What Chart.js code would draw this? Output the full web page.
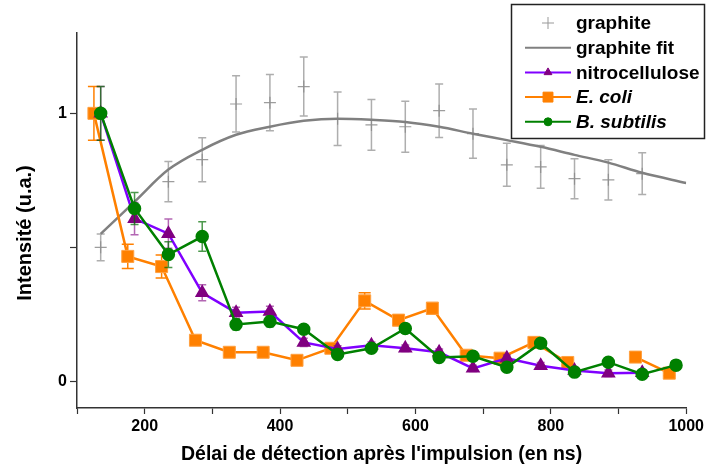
<!DOCTYPE html>
<html>
<head>
<meta charset="utf-8">
<script src="https://cdn.jsdelivr.net/npm/chart.js@4.4.0/dist/chart.umd.min.js"></script>
<style>
  body { margin: 0; background: #fff; }
  canvas { display: block; }
</style>
</head>
<body>
<canvas id="chart" width="707" height="468"></canvas>
<script>
// graphite measurements (ns) and intensity
const graphiteDelays = [135, 235, 285, 335, 385, 435, 485, 535, 585, 635, 685, 735, 785, 835, 885, 935];
const graphite = [0.50, 0.745, 0.827, 1.035, 1.04, 1.10, 0.98, 0.957, 0.95, 1.01, 0.924, 0.808, 0.80, 0.756, 0.752, 0.775];
const graphiteErr = [0.05, 0.075, 0.082, 0.105, 0.105, 0.11, 0.10, 0.095, 0.095, 0.10, 0.092, 0.08, 0.08, 0.075, 0.075, 0.078];

// graphite fit curve
const fitDelays = [135, 185, 235, 285, 335, 385, 435, 485, 535, 585, 635, 685, 735, 785, 835, 885, 935, 1000];
const graphiteFit = [0.55, 0.67, 0.79, 0.864, 0.92, 0.95, 0.972, 0.98, 0.976, 0.968, 0.95, 0.924, 0.90, 0.875, 0.845, 0.816, 0.778, 0.74];

// nitrocellulose
const nitroDelays = [135, 185, 235, 285, 335, 385, 435, 485, 535, 585, 635, 685, 735, 785, 835, 885, 935];
const nitro = [1.0, 0.607, 0.551, 0.33, 0.256, 0.26, 0.145, 0.12, 0.134, 0.123, 0.108, 0.048, 0.086, 0.058, 0.04, 0.03, 0.032];
const nitroErr = [0.1, 0.06, 0.055, 0.03, 0.02, 0.02, 0.015, 0.012, 0.012, 0.012, 0.012, 0.012, 0.012, 0.012, 0.012, 0.012, 0.012];

// E. coli
const ecoliDelays = [125, 175, 225, 275, 325, 375, 425, 475, 525, 575, 625, 675, 725, 775, 825, 875, 925, 975];
const ecoli = [1.0, 0.466, 0.428, 0.153, 0.108, 0.108, 0.078, 0.123, 0.30, 0.228, 0.272, 0.097, 0.086, 0.145, 0.07, null, 0.09, 0.03];
const ecoliErr = [0.1, 0.045, 0.043, 0.01, 0.01, 0.01, 0.01, 0.01, 0.03, 0.02, 0.022, 0.01, 0.01, 0.01, 0.01, 0, 0.01, 0.01];

// B. subtilis
const subtilisDelays = [135, 185, 235, 285, 335, 385, 435, 485, 535, 585, 635, 685, 735, 785, 835, 885, 935, 985];
const subtilis = [1.0, 0.645, 0.473, 0.54, 0.212, 0.223, 0.194, 0.10, 0.123, 0.197, 0.089, 0.093, 0.052, 0.142, 0.034, 0.071, 0.026, 0.06];
const subtilisErr = [0.1, 0.06, 0.048, 0.055, 0.02, 0.02, 0.015, 0.01, 0.01, 0.018, 0.01, 0.01, 0.01, 0.01, 0.01, 0.01, 0.01, 0.01];

const xTicks = [100, 200, 300, 400, 500, 600, 700, 800, 900, 1000];
const xLabels = [200, 400, 600, 800, 1000];
const yTicks = [0, 0.5, 1];
const yLabels = [0, 1];

const FONT = '"Liberation Sans", Arial, sans-serif';

function pts(xs, ys) {
    return xs.map((x, i) => ({ x: x, y: ys[i] }));
}

// vertical error bars with caps, drawn under each dataset
const errorBars = {
    id: 'errorBars',
    beforeDatasetDraw(chart, args) {
        const ds = chart.data.datasets[args.index];
        if (!ds.errors) return;
        const ctx = chart.ctx;
        const xs = chart.scales.x, ys = chart.scales.y;
        const cap = ds.capWidth || 4;
        ctx.save();
        ctx.strokeStyle = ds.errorColor;
        ctx.lineWidth = 1.5;
        ds.data.forEach((p, i) => {
            const e = ds.errors[i];
            if (p.y === null || !e) return;
            const px = xs.getPixelForValue(p.x);
            const top = ys.getPixelForValue(p.y + e);
            const bot = ys.getPixelForValue(p.y - e);
            ctx.beginPath();
            ctx.moveTo(px, top); ctx.lineTo(px, bot);
            ctx.moveTo(px - cap, top); ctx.lineTo(px + cap, top);
            ctx.moveTo(px - cap, bot); ctx.lineTo(px + cap, bot);
            ctx.stroke();
        });
        ctx.restore();
    }
};

// y title sits a bit lower than the plot centre in the original
const yTitle = {
    id: 'yTitle',
    afterDraw(chart) {
        const ctx = chart.ctx;
        ctx.save();
        ctx.translate(25, 233);
        ctx.rotate(-Math.PI / 2);
        ctx.fillStyle = '#000';
        ctx.font = 'bold 20px ' + FONT;
        ctx.textAlign = 'center';
        ctx.textBaseline = 'middle';
        ctx.fillText('Intensité (u.a.)', 0, 0);
        ctx.restore();
    }
};

// boxed legend with line + marker samples, italic species names
const boxLegend = {
    id: 'boxLegend',
    afterDraw(chart) {
        const ctx = chart.ctx;
        const items = [
            { text: 'graphite', line: null, marker: 'cross', mcolor: '#999', r: 6, italic: false },
            { text: 'graphite fit', line: '#808080', marker: null, italic: false },
            { text: 'nitrocellulose', line: '#8000ff', marker: 'triangle', mcolor: '#800080', r: 4.5, italic: false },
            { text: 'E. coli', line: '#ff8000', marker: 'rect', mcolor: '#ff8000', r: 7, italic: true },
            { text: 'B. subtilis', line: '#008000', marker: 'circle', mcolor: '#008000', r: 4, italic: true }
        ];
        ctx.save();
        ctx.fillStyle = '#fff';
        ctx.fillRect(511, 4, 193, 134);
        ctx.strokeStyle = '#222';
        ctx.lineWidth = 1.5;
        ctx.strokeRect(511.5, 4.5, 193, 134);
        items.forEach((it, i) => {
            const y = 23 + i * 24.7;
            if (it.line) {
                ctx.strokeStyle = it.line;
                ctx.lineWidth = 2;
                ctx.beginPath();
                ctx.moveTo(525, y); ctx.lineTo(571, y);
                ctx.stroke();
            }
            if (it.marker) {
                ctx.fillStyle = it.mcolor;
                ctx.strokeStyle = it.mcolor;
                ctx.lineWidth = 1;
                Chart.helpers.drawPoint(ctx, {
                    pointStyle: it.marker,
                    radius: it.r,
                    rotation: 0,
                    borderWidth: 1
                }, 548, y);
            }
            ctx.fillStyle = '#000';
            ctx.font = (it.italic ? 'italic ' : '') + 'bold 19px ' + FONT;
            ctx.textBaseline = 'middle';
            ctx.fillText(it.text, 576, y + 1);
        });
        ctx.restore();
    }
};

const ctx = document.getElementById('chart').getContext('2d');
new Chart(ctx, {
    type: 'line',
    data: {
        datasets: [
            {
                label: 'graphite',
                data: pts(graphiteDelays, graphite),
                errors: graphiteErr,
                errorColor: 'rgba(140,140,140,0.7)',
                showLine: false,
                pointStyle: 'cross',
                pointRadius: 6,
                pointBorderWidth: 1.2,
                borderColor: 'rgba(140,140,140,0.85)',
                order: 5
            },
            {
                label: 'graphite fit',
                data: pts(fitDelays, graphiteFit),
                borderColor: '#808080',
                borderWidth: 2.5,
                pointRadius: 0,
                cubicInterpolationMode: 'monotone',
                order: 4
            },
            {
                label: 'E. coli',
                data: pts(ecoliDelays, ecoli),
                errors: ecoliErr,
                errorColor: '#ff8000',
                capWidth: 6,
                borderColor: '#ff8000',
                backgroundColor: '#ff8000',
                borderWidth: 2.5,
                pointStyle: 'rect',
                pointRadius: 8.5,
                pointBorderColor: '#ffa040',
                pointBorderWidth: 1,
                order: 3
            },
            {
                label: 'nitrocellulose',
                data: pts(nitroDelays, nitro),
                errors: nitroErr,
                errorColor: 'rgba(128,0,128,0.6)',
                borderColor: '#8000ff',
                backgroundColor: '#800080',
                pointBorderColor: '#800080',
                borderWidth: 2.5,
                pointStyle: 'triangle',
                pointRadius: 6,
                order: 2
            },
            {
                label: 'B. subtilis',
                data: pts(subtilisDelays, subtilis),
                errors: subtilisErr,
                errorColor: 'rgba(0,110,0,0.7)',
                borderColor: '#008000',
                backgroundColor: '#008000',
                pointBorderColor: '#008000',
                borderWidth: 2.5,
                pointStyle: 'circle',
                pointRadius: 5.5,
                order: 1
            }
        ]
    },
    options: {
        responsive: false,
        animation: false,
        events: [],
        layout: { padding: { top: 33, right: 18, left: 0, bottom: 0 } },
        plugins: {
            legend: { display: false },
            tooltip: { enabled: false }
        },
        scales: {
            x: {
                type: 'linear',
                min: 100,
                max: 1000,
                afterBuildTicks: s => { s.ticks = xTicks.map(v => ({ value: v })); },
                afterFit: s => { s.height = 60; },
                border: { color: '#333', width: 1.5 },
                grid: { drawOnChartArea: false, tickLength: 6, color: '#333', tickWidth: 1.2 },
                ticks: {
                    color: '#000',
                    padding: 3,
                    autoSkip: false,
                    maxRotation: 0,
                    font: { family: FONT, size: 16, weight: 'bold' },
                    callback: v => xLabels.includes(v) ? String(v) : ''
                },
                title: {
                    display: true,
                    text: "Délai de détection après l'impulsion (en ns)",
                    color: '#000',
                    font: { family: FONT, size: 19.5, weight: 'bold' },
                    padding: { top: 0, bottom: 2 }
                }
            },
            y: {
                type: 'linear',
                min: -0.1,
                max: 1.3,
                afterBuildTicks: s => { s.ticks = yTicks.map(v => ({ value: v })); },
                afterFit: s => { s.width = 77; },
                border: { color: '#333', width: 1.5 },
                grid: { drawOnChartArea: false, tickLength: 7, color: '#333', tickWidth: 1.2 },
                ticks: {
                    color: '#000',
                    padding: 3,
                    font: { family: FONT, size: 16, weight: 'bold' },
                    callback: v => yLabels.includes(v) ? String(v) : ''
                }
            }
        }
    },
    plugins: [errorBars, yTitle, boxLegend]
});
</script>
</body>
</html>
